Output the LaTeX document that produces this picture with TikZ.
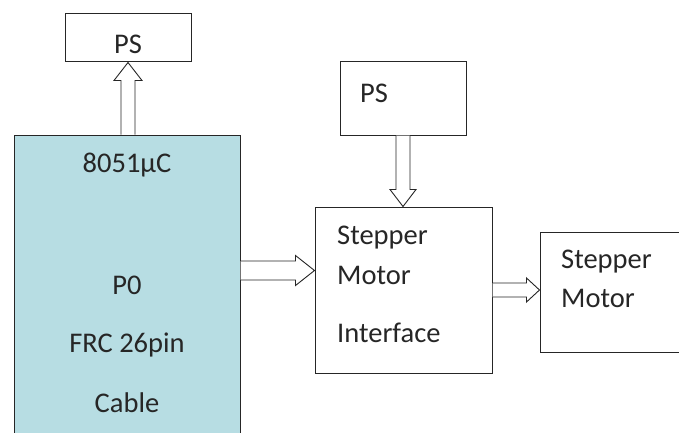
\documentclass[tikz,border=0pt]{standalone}
\usepackage{fontspec}
\setmainfont{Carlito}
\usetikzlibrary{calc}
\definecolor{mcfill}{HTML}{B7DDE3}
\definecolor{txt}{HTML}{262626}
\tikzset{
  box/.style={draw=black!85, line width=1pt, rectangle, inner sep=0pt},
  lbl/.style={text=txt, font=\fontsize{28.5}{30}\selectfont, inner sep=0pt},
  hollow/.style={draw=black!85, line width=0.9pt, fill=white, line join=miter}
}
% #1 start, #2 end, #3 half shaft, #4 half head, #5 head length
\newcommand{\hollowarrow}[5]{%
  \coordinate (hb) at ($(#2)!#5!(#1)$);
  \draw[hollow] ($(#1)!#3!90:(#2)$) -- ($(hb)!#3!-90:(#1)$) -- ($(hb)!#4!-90:(#1)$) -- (#2)
    -- ($(hb)!#4!90:(#1)$) -- ($(hb)!#3!90:(#1)$) -- ($(#1)!#3!-90:(#2)$);
}
\begin{document}
\begin{tikzpicture}[x=1pt,y=-1pt]
\useasboundingbox (0,0) rectangle (679,433);
\clip (0,0) rectangle (679,433);
\fill[white] (0,0) rectangle (679,433);
% boxes
\node[box, fill=mcfill, minimum width=226pt, minimum height=310pt] (mc) at (127,290) {};
\node[box, minimum width=126pt, minimum height=48pt] (ps1) at (128,38) {};
\node[box, minimum width=126pt, minimum height=73pt] (ps2) at (403,98.5) {};
\node[box, minimum width=177pt, minimum height=166pt] (smi) at (403.5,290) {};
\node[box, minimum width=150pt, minimum height=120pt] (sm) at (615,292) {};
% texts
\node[lbl] (t1) at (128,44) {PS};
\node[lbl] (t2) at (127,165) {8051µC};
\node[lbl] (t3) at (127,285) {P0};
\node[lbl] (t4) at (127,345) {FRC 26pin};
\node[lbl] (t5) at (127,403) {Cable};
\node[lbl, anchor=west] (t6) at (360,93) {PS};
\node[lbl, anchor=west] (t7) at (337,238) {Stepper};
\node[lbl, anchor=west] (t8) at (337,275) {Motor};
\node[lbl, anchor=west] (t9) at (337,333) {Interface};
\node[lbl, anchor=west] (t10) at (561,262) {Stepper};
\node[lbl, anchor=west] (t11) at (561,298) {Motor};
% arrow end points
\coordinate (a1s) at (mc.north -| ps1.south);
\coordinate (a1e) at (ps1.south);
\coordinate (a2s) at ($(mc.east |- 0,270.5)$);
\coordinate (a2e) at ($(smi.west |- 0,270.5)$);
\coordinate (a3s) at (ps2.south);
\coordinate (a3e) at (smi.north -| ps2.south);
\coordinate (a4s) at ($(smi.east |- 0,290)$);
\coordinate (a4e) at ($(sm.west |- 0,290)$);
\hollowarrow{a1s}{a1e}{7pt}{14pt}{18pt}
\hollowarrow{a2s}{a2e}{9.5pt}{15pt}{19pt}
\hollowarrow{a3s}{a3e}{7pt}{13pt}{17pt}
\hollowarrow{a4s}{a4e}{7pt}{12pt}{13pt}
\end{tikzpicture}
\end{document}
